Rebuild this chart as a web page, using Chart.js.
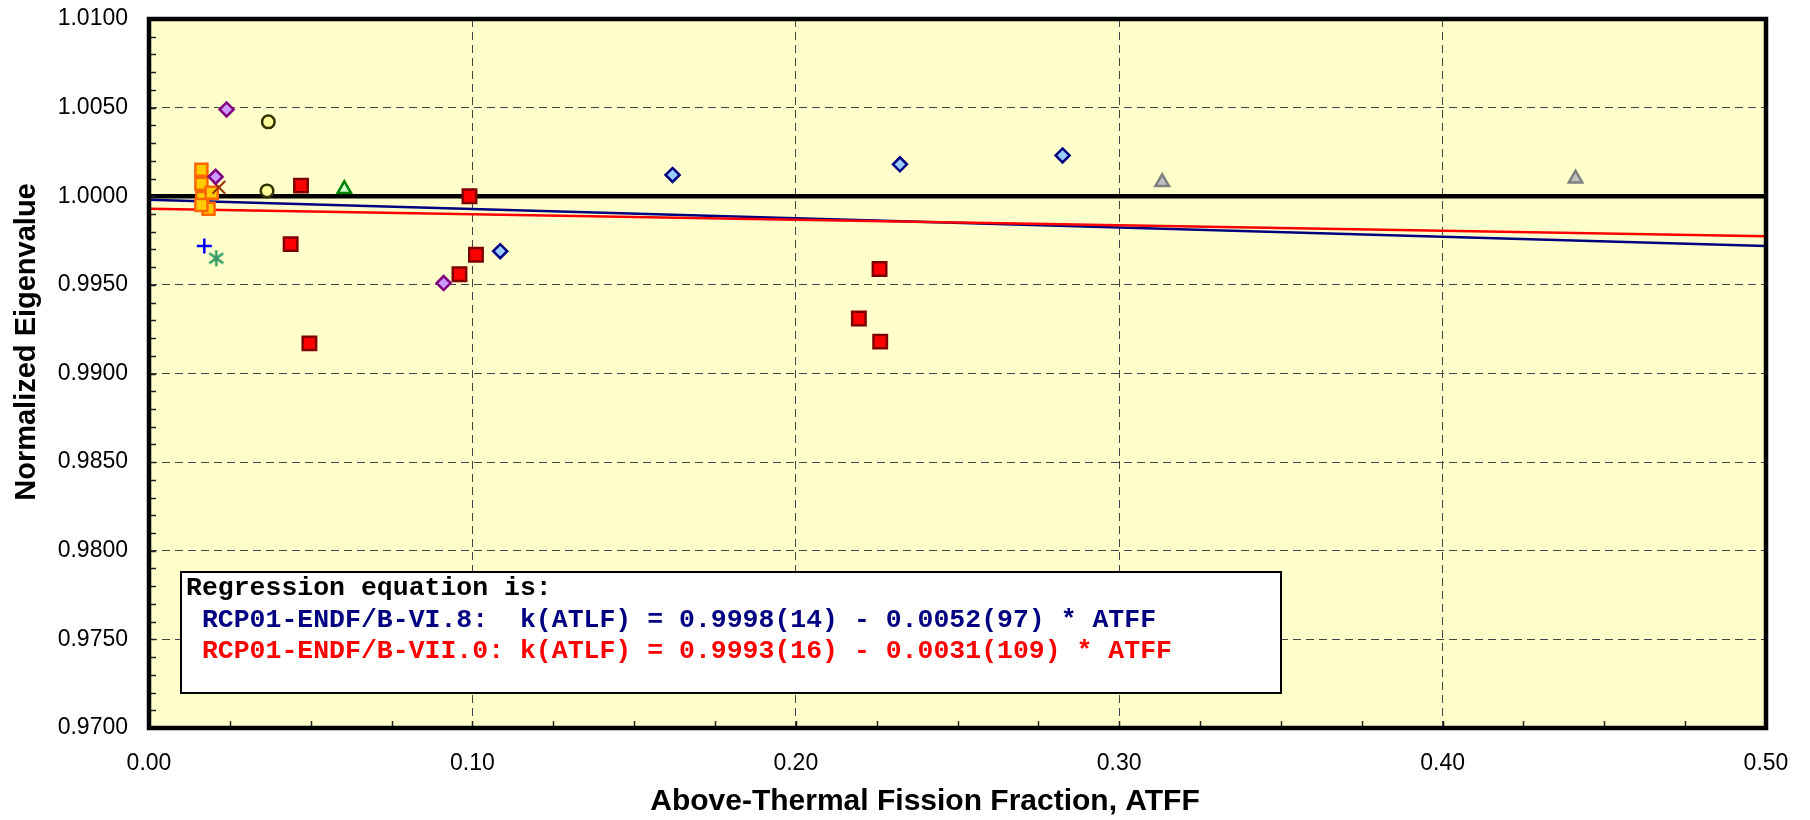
<!DOCTYPE html>
<html><head><meta charset="utf-8">
<script src="https://cdn.jsdelivr.net/npm/chart.js@4.4.1/dist/chart.umd.min.js"></script>
<style>html,body{margin:0;padding:0;background:#fff}#wrap{position:relative;width:1810px;height:820px}</style>
</head><body><div id="wrap"><canvas id="c" width="1810" height="820"></canvas></div>
<script>
// ---- tick values / labels ----
const xTickValues = [0, 0.1, 0.2, 0.3, 0.4, 0.5];
const xTickLabels = ['0.00', '0.10', '0.20', '0.30', '0.40', '0.50'];
const yTickValues = [0.970, 0.975, 0.980, 0.985, 0.990, 0.995, 1.000, 1.005, 1.010];
const yTickLabels = ['0.9700', '0.9750', '0.9800', '0.9850', '0.9900', '0.9950', '1.0000', '1.0050', '1.0100'];
const xTitle = 'Above-Thermal Fission Fraction, ATFF';
const yTitle = 'Normalized Eigenvalue';
const legendLines = [
  'Regression equation is:',
  ' RCP01-ENDF/B-VI.8:  k(ATLF) = 0.9998(14) - 0.0052(97) * ATFF',
  ' RCP01-ENDF/B-VII.0: k(ATLF) = 0.9993(16) - 0.0031(109) * ATFF'
];

// ---- series values ----
const orangeX = [0.0162, 0.0162, 0.0165, 0.0184, 0.0194, 0.0162];
const orangeY = [1.0015, 1.0007, 0.9999, 0.9993, 1.0002, 0.9995];
const brownX = [0.0216];
const brownY = [1.0005];
const purpleX = [0.0240, 0.0206, 0.0911];
const purpleY = [1.0049, 1.0011, 0.9951];
const yellowX = [0.0369, 0.0365];
const yellowY = [1.0042, 1.0003];
const redX = [0.0470, 0.0438, 0.0496, 0.0991, 0.1011, 0.0960, 0.2259, 0.2195, 0.2261];
const redY = [1.0006, 0.9973, 0.9917, 1.0000, 0.9967, 0.9956, 0.9959, 0.9931, 0.9918];
const blueDiaX = [0.1086, 0.1619, 0.2322, 0.2825];
const blueDiaY = [0.9969, 1.0012, 1.0018, 1.0023];
const grayTriX = [0.3133, 0.4411];
const grayTriY = [1.0008, 1.0010];
const greenTriX = [0.0604];
const greenTriY = [1.0004];
const plusX = [0.0171];
const plusY = [0.9972];
const starX = [0.0208];
const starY = [0.9965];
const refLineX = [0, 0.5];
const refLineY = [1.0, 1.0];
const fitVI8X = [0, 0.5];
const fitVI8Y = [0.9998, 0.9972];
const fitVII0X = [0, 0.5];
const fitVII0Y = [0.9993, 0.99775];

const pts = (xs, ys) => xs.map((x, i) => ({x: x, y: ys[i]}));

// custom asterisk marker
const star = document.createElement('canvas');
star.width = 18; star.height = 18;
(function(){
  const c = star.getContext('2d');
  c.strokeStyle = '#339966'; c.lineWidth = 2.5; c.lineCap = 'butt';
  c.beginPath();
  c.moveTo(9, 1); c.lineTo(9, 17);
  c.moveTo(2, 4); c.lineTo(16, 14);
  c.moveTo(16, 4); c.lineTo(2, 14);
  c.stroke();
})();

const decor = {
  id: 'decor',
  beforeDraw(chart) {
    const {ctx, chartArea: a} = chart;
    ctx.save();
    ctx.fillStyle = '#FFFFCC';
    ctx.fillRect(a.left, a.top, a.right - a.left, a.bottom - a.top);
    ctx.restore();
  },
  afterDatasetsDraw(chart) {
    const {ctx, chartArea: a} = chart;
    const xs = chart.scales.x, ys = chart.scales.y;
    ctx.save();
    // regression equation box
    ctx.fillStyle = '#FFFFFF';
    ctx.fillRect(181, 572, 1100, 121);
    ctx.strokeStyle = '#000';
    ctx.lineWidth = 2;
    ctx.strokeRect(181, 572, 1100, 121);
    ctx.font = 'bold 26.5px "Liberation Mono", "Courier New", monospace';
    ctx.textBaseline = 'alphabetic';
    ctx.textAlign = 'left';
    const cols = ['#000000', '#000080', '#FF0000'];
    const base = [595, 627, 658];
    legendLines.forEach((t, i) => { ctx.fillStyle = cols[i]; ctx.fillText(t, 186, base[i]); });
    // inward minor ticks
    ctx.strokeStyle = '#222';
    ctx.lineWidth = 1.5;
    ctx.beginPath();
    for (let k = 0; k <= 40; k++) {
      const py = Math.round(ys.getPixelForValue(0.97 + k * 0.001)) + 0.5;
      ctx.moveTo(a.left, py); ctx.lineTo(a.left + 7, py);
    }
    for (let k = 0; k <= 20; k++) {
      const px = Math.round(xs.getPixelForValue(k * 0.025)) + 0.5;
      ctx.moveTo(px, a.bottom); ctx.lineTo(px, a.bottom - 7);
    }
    ctx.stroke();
    // frame
    ctx.strokeStyle = '#000';
    ctx.lineWidth = 4.5;
    ctx.strokeRect(a.left, a.top, a.right - a.left, a.bottom - a.top);
    ctx.restore();
  },
  afterDraw(chart) {
    const {ctx} = chart;
    ctx.save();
    ctx.fillStyle = '#000';
    ctx.textAlign = 'center';
    ctx.textBaseline = 'middle';
    ctx.font = 'bold 30px "Liberation Sans", Arial, sans-serif';
    ctx.fillText(xTitle, 925, 802);
    ctx.font = 'bold 29px "Liberation Sans", Arial, sans-serif';
    ctx.translate(27, 342);
    ctx.rotate(-Math.PI / 2);
    ctx.fillText(yTitle, 0, 0);
    ctx.restore();
  }
};

const marker = (o) => Object.assign({showLine: false, pointHoverRadius: 0}, o);

new Chart(document.getElementById('c'), {
  type: 'scatter',
  data: {
    datasets: [
      marker({label: 'gray', data: pts(grayTriX, grayTriY), pointStyle: 'triangle', pointRadius: 7.8,
        pointBackgroundColor: '#C0C0C0', pointBorderColor: '#808080', pointBorderWidth: 2.5, order: 2}),
      marker({label: 'blueDia', data: pts(blueDiaX, blueDiaY), pointStyle: 'rectRot', pointRadius: 7,
        pointBackgroundColor: '#99CCFF', pointBorderColor: '#000080', pointBorderWidth: 2.5, order: 2}),
      marker({label: 'red', data: pts(redX, redY), pointStyle: 'rect', pointRadius: 9.5,
        pointBackgroundColor: '#FF0000', pointBorderColor: '#800000', pointBorderWidth: 2.5, order: 2}),
      marker({label: 'greenTri', data: pts(greenTriX, greenTriY), pointStyle: 'triangle', pointRadius: 7.8,
        pointBackgroundColor: '#CCFFCC', pointBorderColor: '#008000', pointBorderWidth: 2.5, order: 2}),
      marker({label: 'yellow', data: pts(yellowX, yellowY), pointStyle: 'circle', pointRadius: 6.3,
        pointBackgroundColor: '#FFFF99', pointBorderColor: '#333300', pointBorderWidth: 2.5, order: 2}),
      marker({label: 'plus', data: pts(plusX, plusY), pointStyle: 'cross', pointRadius: 7.5,
        pointBackgroundColor: '#0000FF', pointBorderColor: '#0000FF', pointBorderWidth: 2.5, order: 2}),
      marker({label: 'star', data: pts(starX, starY), pointStyle: star, pointRadius: 8, order: 2}),
      marker({label: 'purple', data: pts(purpleX, purpleY), pointStyle: 'rectRot', pointRadius: 7,
        pointBackgroundColor: '#CC99FF', pointBorderColor: '#800080', pointBorderWidth: 2.5, order: 3}),
      marker({label: 'brownX', data: pts(brownX, brownY), pointStyle: 'crossRot', pointRadius: 9,
        pointBackgroundColor: '#993300', pointBorderColor: '#993300', pointBorderWidth: 2, order: 4}),
      marker({label: 'orange', data: pts(orangeX, orangeY), pointStyle: 'rect', pointRadius: 8.5,
        pointBackgroundColor: '#FFCC00', pointBorderColor: '#FF6600', pointBorderWidth: 2.5, order: 5}),
      {label: 'ref', data: pts(refLineX, refLineY), showLine: true, borderColor: '#000000', borderWidth: 4.5,
        pointRadius: 0, pointHoverRadius: 0, order: 10},
      {label: 'VII.0', data: pts(fitVII0X, fitVII0Y), showLine: true, borderColor: '#FF0000', borderWidth: 2.5,
        pointRadius: 0, pointHoverRadius: 0, order: 11},
      {label: 'VI.8', data: pts(fitVI8X, fitVI8Y), showLine: true, borderColor: '#000080', borderWidth: 2.5,
        pointRadius: 0, pointHoverRadius: 0, order: 12}
    ]
  },
  options: {
    responsive: false,
    animation: false,
    events: [],
    devicePixelRatio: 1,
    layout: {padding: {left: 0, top: 19, right: 44, bottom: 0}},
    plugins: {legend: {display: false}, tooltip: {enabled: false}},
    scales: {
      x: {
        type: 'linear', min: 0, max: 0.5,
        afterFit(s) { s.height = 92; s.paddingLeft = 0; s.paddingRight = 0; },
        afterBuildTicks(s) { s.ticks = xTickValues.map(v => ({value: v})); },
        ticks: {
          callback: (v, i) => xTickLabels[i],
          font: {family: '"Liberation Sans", Arial, sans-serif', size: 23},
          color: '#000', padding: 22, maxRotation: 0, autoSkip: false
        },
        grid: {color: '#444444', lineWidth: 1, drawTicks: false},
        border: {display: false, dash: [8, 5]}
      },
      y: {
        type: 'linear', min: 0.97, max: 1.01,
        afterFit(s) { s.width = 149; s.paddingTop = 0; s.paddingBottom = 0; },
        afterBuildTicks(s) { s.ticks = yTickValues.map(v => ({value: v})); },
        ticks: {
          callback: (v, i) => yTickLabels[i],
          font: {family: '"Liberation Sans", Arial, sans-serif', size: 23},
          color: '#000', padding: 21, autoSkip: false
        },
        grid: {color: '#444444', lineWidth: 1, drawTicks: false},
        border: {display: false, dash: [8, 5]}
      }
    }
  },
  plugins: [decor]
});
</script>
</body></html>
